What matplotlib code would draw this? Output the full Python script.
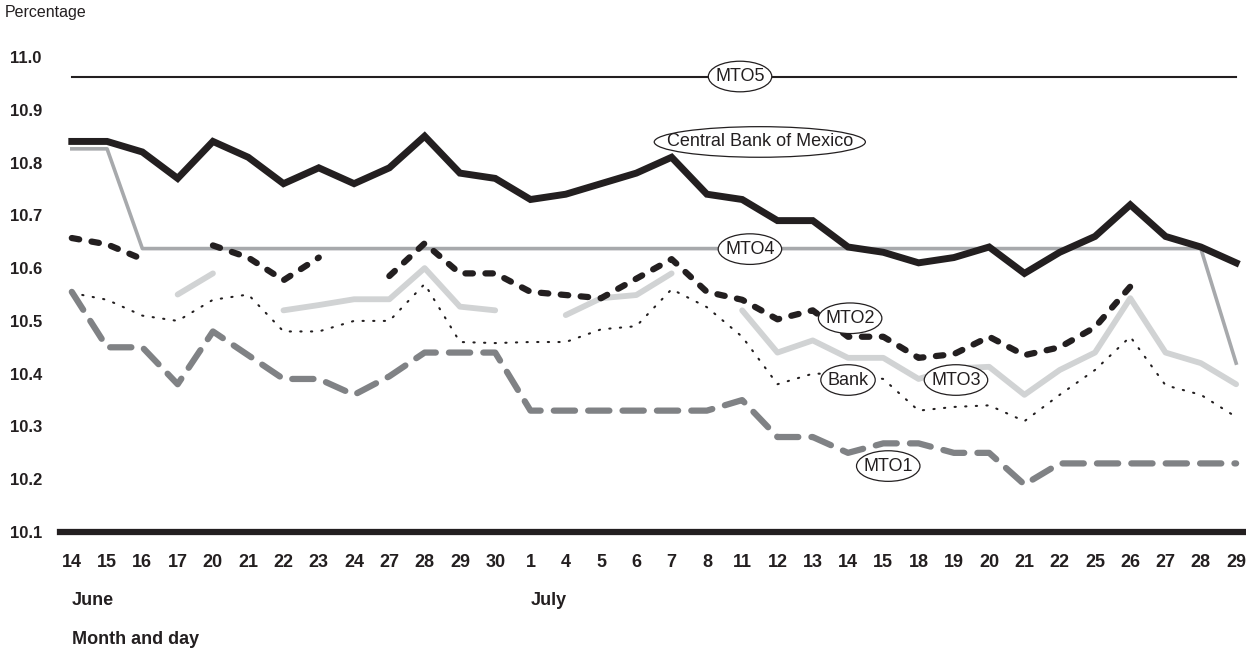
import numpy as np
import matplotlib
matplotlib.use("Agg")
import matplotlib.pyplot as plt
from matplotlib.path import Path
from matplotlib.transforms import Affine2D

plt.rcParams['font.family'] = ['Liberation Sans Narrow', 'Liberation Sans', 'DejaVu Sans']

nan = np.nan

# --- Data ---
days = ["14", "15", "16", "17", "20", "21", "22", "23", "24", "27", "28", "29", "30",
        "1", "4", "5", "6", "7", "8", "11", "12", "13", "14", "15", "18", "19", "20",
        "21", "22", "25", "26", "27", "28", "29"]
months = ["June", "July"]
month_start = [0, 13]

mto5 = [10.963] * 34
central_bank = [10.84, 10.84, 10.82, 10.77, 10.84, 10.81, 10.76, 10.79, 10.76, 10.79,
                10.85, 10.78, 10.77, 10.73, 10.74, 10.76, 10.78, 10.81, 10.74, 10.73,
                10.69, 10.69, 10.64, 10.63, 10.61, 10.62, 10.64, 10.59, 10.63, 10.66,
                10.72, 10.66, 10.64, 10.61]
mto4 = [10.826, 10.826] + [10.637] * 31 + [10.42]
mto2 = [10.657, 10.645, 10.617, nan, 10.643, 10.62, 10.577, 10.62, nan, 10.585,
        10.647, 10.59, 10.59, 10.555, 10.549, 10.543, 10.58, 10.617, 10.555, 10.54,
        10.503, 10.52, 10.47, 10.47, 10.43, 10.437, 10.47, 10.435, 10.45, 10.488,
        10.565, nan, nan, nan]
mto3 = [nan, nan, nan, 10.55, 10.59, nan, 10.52, 10.53, 10.541, 10.541,
        10.60, 10.527, 10.52, nan, 10.511, 10.543, 10.549, 10.59, nan, 10.52,
        10.44, 10.463, 10.43, 10.43, 10.39, 10.41, 10.413, 10.36, 10.407, 10.44,
        10.543, 10.44, 10.42, 10.38]
bank = [10.553, 10.54, 10.51, 10.50, 10.54, 10.55, 10.48, 10.48, 10.50, 10.50,
        10.57, 10.46, 10.458, 10.46, 10.46, 10.484, 10.49, 10.56, 10.526, 10.47,
        10.38, 10.40, 10.40, 10.39, 10.33, 10.337, 10.34, 10.31, 10.36, 10.407,
        10.47, 10.378, 10.36, 10.318]
mto1 = [10.555, 10.45, 10.45, 10.38, 10.48, 10.435, 10.39, 10.39, 10.36, 10.395,
        10.44, 10.44, 10.44, 10.33, 10.33, 10.33, 10.33, 10.33, 10.33, 10.35,
        10.28, 10.28, 10.25, 10.268, 10.268, 10.25, 10.25, 10.19, 10.23, 10.23,
        10.23, 10.23, 10.23, 10.23]

yticks = [10.1, 10.2, 10.3, 10.4, 10.5, 10.6, 10.7, 10.8, 10.9, 11.0]

x = np.arange(len(days))


def ellipse_box(x0, y0, width, height, mutation_size):
    # ellipse hugging the text, a bit tighter than the built-in one
    a = width / 2 * 1.08 + 5
    b = height / 2 * 1.8
    tr = Affine2D().scale(a, b).translate(x0 + width / 2, y0 + height / 2)
    return tr.transform_path(Path.unit_circle())


fig = plt.figure(figsize=(12.46, 6.52), dpi=100)
ax = fig.add_axes([0.048, 0.184, 0.952, 0.7286])

ax.plot(x, mto5, color="#231f20", lw=1.5, zorder=2)
ax.plot(x, mto4, color="#a7a9ac", lw=2.6, zorder=2)
ax.plot(x, central_bank, color="#231f20", lw=5, solid_joinstyle="miter", zorder=6)
ax.plot(x, mto3, color="#d1d3d4", lw=4.2, solid_capstyle="round", zorder=3)
ax.plot(x, mto2, color="#231f20", lw=4.5, dashes=(1.2, 2.0),
        dash_capstyle="round", zorder=5)
ax.plot(x, bank, color="#231f20", lw=1.5, dashes=(0.6, 4.5),
        dash_capstyle="round", zorder=4)
ax.plot(x, mto1, color="#808285", lw=4.5, dashes=(3.4, 2.1),
        dash_capstyle="round", zorder=4)

# labels with ellipse boxes
box = dict(boxstyle=ellipse_box, fc="white", ec="#231f20", lw=0.9)
labels = [("MTO5", 18.94, 10.963), ("Central Bank of Mexico", 19.5, 10.839),
          ("MTO4", 19.22, 10.636), ("MTO2", 22.06, 10.505), ("Bank", 22.0, 10.388),
          ("MTO3", 25.06, 10.388), ("MTO1", 23.14, 10.225)]
for txt, lx, ly in labels:
    ax.text(lx, ly, txt, ha="center", va="center", fontsize=13,
            family=["Liberation Sans", "DejaVu Sans"], color="#231f20",
            bbox=box, zorder=10)

ax.set_xlim(-0.34, 33.28)
ax.set_ylim(10.1, 11.0)

for s in ["top", "right", "left"]:
    ax.spines[s].set_visible(False)
ax.spines["bottom"].set_linewidth(4.5)
ax.spines["bottom"].set_color("#231f20")
ax.spines["bottom"].set_zorder(11)

ax.set_xticks(x)
ax.set_xticklabels(days, fontsize=13, fontweight="bold", color="#231f20")
ax.tick_params(axis="x", length=0, pad=16)
ax.set_yticks(yticks)
ax.set_yticklabels([f"{v:.1f}" for v in yticks], fontsize=12, fontweight="bold",
                   color="#231f20", ha="left")
ax.tick_params(axis="y", length=0, pad=36)

for m, i in zip(months, month_start):
    ax.text(i, 10.1 - 68 / 528, m, fontsize=13, fontweight="bold",
            color="#231f20", ha="left", va="center")

fig.text(72 / 1246, 1 - 640 / 652, "Month and day", fontsize=13, fontweight="bold",
         color="#231f20", ha="left", va="center")
fig.text(5 / 1246, 1 - 13 / 652, "Percentage", fontsize=11.5,
         family=["Liberation Sans", "DejaVu Sans"], color="#231f20",
         ha="left", va="center")

fig.savefig("out.png", dpi=100)
